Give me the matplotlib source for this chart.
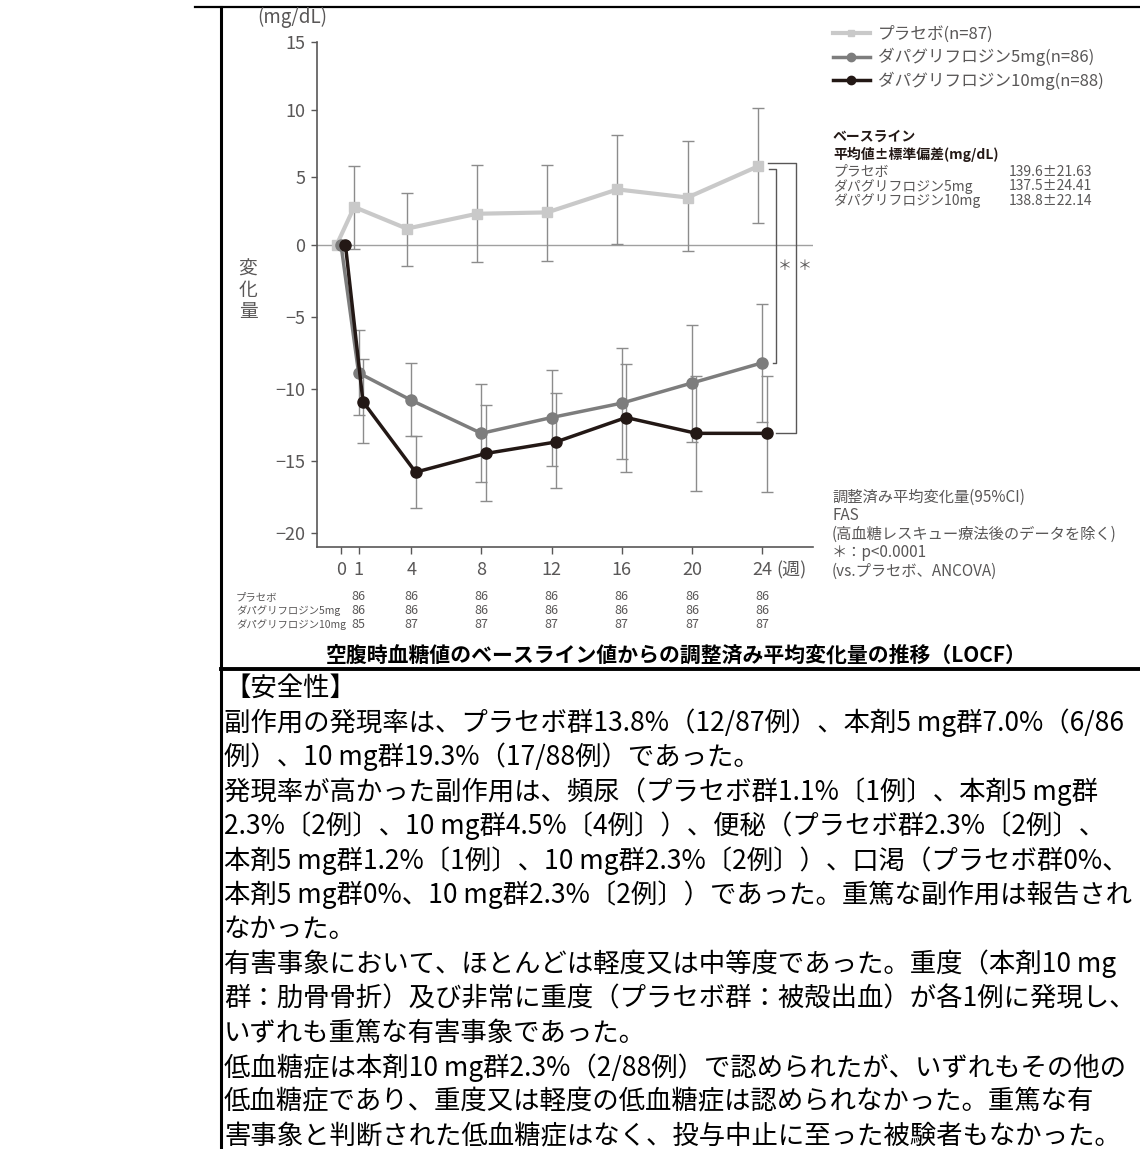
import numpy as np
import matplotlib
matplotlib.use('Agg')
import matplotlib.pyplot as plt

plt.rcParams['font.family'] = ['Noto Sans CJK JP', 'DejaVu Sans']

# weeks and adjusted mean change from baseline (mg/dL), 95% CI bounds
weeks = [0, 1, 4, 8, 12, 16, 20, 24]
week_labels = ['0', '1', '4', '8', '12', '16', '20', '24']

pl_mean = [0, 2.8, 1.2, 2.3, 2.4, 4.1, 3.5, 5.8]
pl_lo = [np.nan, -0.3, -1.5, -1.2, -1.1, 0.1, -0.4, 1.6]
pl_hi = [np.nan, 5.8, 3.8, 5.9, 5.9, 8.1, 7.7, 10.1]

d5_mean = [0, -8.9, -10.8, -13.1, -12.0, -11.0, -9.6, -8.2]
d5_lo = [np.nan, -11.8, -13.3, -16.5, -15.4, -14.9, -13.7, -12.3]
d5_hi = [np.nan, -5.9, -8.2, -9.7, -8.7, -7.2, -5.6, -4.1]

d10_mean = [0, -10.9, -15.8, -14.5, -13.7, -12.0, -13.1, -13.1]
d10_lo = [np.nan, -13.8, -18.3, -17.8, -16.9, -15.8, -17.1, -17.2]
d10_hi = [np.nan, -7.9, -13.3, -11.1, -10.3, -8.3, -9.1, -9.1]

group_names = ['プラセボ', 'ダパグリフロジン5mg', 'ダパグリフロジン10mg']
group_n = [87, 86, 88]
baseline = ['139.6±21.63', '137.5±24.41', '138.8±22.14']

n_pl = ['86', '86', '86', '86', '86', '86', '86']
n_d5 = ['86', '86', '86', '86', '86', '86', '86']
n_d10 = ['85', '87', '87', '87', '87', '87', '87']

notes = ['調整済み平均変化量(95%CI)', 'FAS', '(高血糖レスキュー療法後のデータを除く)',
         '＊：p<0.0001', '(vs.プラセボ、ANCOVA)']

caption = '空腹時血糖値のベースライン値からの調整済み平均変化量の推移（LOCF）'
body = [
    '【安全性】',
    '副作用の発現率は、プラセボ群13.8%（12/87例）、本剤5 mg群7.0%（6/86',
    '例）、10 mg群19.3%（17/88例）であった。',
    '発現率が高かった副作用は、頻尿（プラセボ群1.1%〔1例〕、本剤5 mg群',
    '2.3%〔2例〕、10 mg群4.5%〔4例〕）、便秘（プラセボ群2.3%〔2例〕、',
    '本剤5 mg群1.2%〔1例〕、10 mg群2.3%〔2例〕）、口渇（プラセボ群0%、',
    '本剤5 mg群0%、10 mg群2.3%〔2例〕）であった。重篤な副作用は報告され',
    'なかった。',
    '有害事象において、ほとんどは軽度又は中等度であった。重度（本剤10 mg',
    '群：肋骨骨折）及び非常に重度（プラセボ群：被殻出血）が各1例に発現し、',
    'いずれも重篤な有害事象であった。',
    '低血糖症は本剤10 mg群2.3%（2/88例）で認められたが、いずれもその他の',
    '低血糖症であり、重度又は軽度の低血糖症は認められなかった。重篤な有',
    '害事象と判断された低血糖症はなく、投与中止に至った被験者もなかった。',
]

W, H = 1140, 1149
def fx(x):
    return x / W
def fy(y):
    return 1 - y / H

GRAY = '#595757'
C_PL = '#c9c9c9'
C_5 = '#7d7d7d'
C_10 = '#231815'
C_ERR = '#8c8c8c'

fig = plt.figure(figsize=(W / 100, H / 100), dpi=100)
ax = fig.add_axes([fx(317), fy(547), fx(813) - fx(317), fy(42) - fy(547)])

# the printed chart is a bit compressed above zero
k = 0.94
def fwd(y):
    y = np.asarray(y, dtype=float)
    return np.where(y > 0, y * k, y)
def inv(y):
    y = np.asarray(y, dtype=float)
    return np.where(y > 0, y / k, y)
ax.set_yscale('function', functions=(fwd, inv))

wk = np.array(weeks, dtype=float)
series = [
    (wk - 0.25, pl_mean, pl_lo, pl_hi, C_PL, 's', 6.5, 3.0),
    (wk, d5_mean, d5_lo, d5_hi, C_5, 'o', 8, 2.5),
    (wk + 0.25, d10_mean, d10_lo, d10_hi, C_10, 'o', 8, 2.5),
]
handles = []
for x, m, lo, hi, c, mk, ms, lw in series:
    m = np.array(m)
    yerr = [m - np.array(lo), np.array(hi) - m]
    ax.errorbar(x, m, yerr=yerr, fmt='none', ecolor=C_ERR, elinewidth=1,
                capsize=4, capthick=1, zorder=1)
    h, = ax.plot(x, m, color=c, marker=mk, markersize=ms, lw=lw, zorder=3)
    handles.append(h)

ax.axhline(0, color='#a0a0a0', lw=1, zorder=0)

ax.set_xlim(-1.37, 26.9)
ax.set_ylim(-21, 15)
ax.set_xticks(weeks)
ax.set_xticklabels(week_labels)
ax.set_yticks([15, 10, 5, 0, -5, -10, -15, -20])
ax.yaxis.set_minor_locator(plt.NullLocator())
for s in ['top', 'right']:
    ax.spines[s].set_visible(False)
ax.spines['left'].set_bounds(-21, 15)
for s in ['left', 'bottom']:
    ax.spines[s].set_color(GRAY)
    ax.spines[s].set_linewidth(1.2)
ax.tick_params(axis='y', length=4.3, width=1, color=GRAY, labelcolor=GRAY,
               labelsize=13, pad=4)
ax.tick_params(axis='x', length=5, width=1, color=GRAY, labelcolor=GRAY,
               labelsize=13, pad=5)

# significance brackets at week 24
yt = pl_mean[-1]
ax.plot([24.35, 25.95, 25.95, 24.8], [yt + 0.25, yt + 0.25, d10_mean[-1], d10_mean[-1]],
        color=GRAY, lw=1, clip_on=False)
ax.plot([24.4, 24.8, 24.8, 24.6], [yt - 0.2, yt - 0.2, d5_mean[-1], d5_mean[-1]],
        color=GRAY, lw=1, clip_on=False)
ax.text(25.3, -1.5, '＊', color=GRAY, fontsize=10, ha='center', va='center')
ax.text(26.45, -1.5, '＊', color=GRAY, fontsize=10, ha='center', va='center')

fig.text(fx(292), fy(17), '(mg/dL)', color=GRAY, fontsize=13.5, ha='center', va='center')
fig.text(fx(248), fy(290), '変\n化\n量', color=GRAY, fontsize=13.5, ha='center',
         va='center', linespacing=1.0)
fig.text(fx(776), fy(570), '(週)', color=GRAY, fontsize=13, ha='left', va='center')

fig.legend(handles, ['%s(n=%d)' % (g, n) for g, n in zip(group_names, group_n)],
           loc='upper left', bbox_to_anchor=(fx(818), fy(11)), frameon=False,
           fontsize=12, labelcolor=GRAY, handlelength=2.2, handletextpad=0.5,
           labelspacing=0.3, markerscale=0.75)

fig.text(fx(833), fy(137), 'ベースライン', color=C_10, fontsize=10, weight='bold', va='center')
fig.text(fx(833), fy(154), '平均値±標準偏差(mg/dL)', color=C_10, fontsize=10,
         weight='bold', va='center')
for i, (g, b) in enumerate(zip(group_names, baseline)):
    y = 172 + i * 14.5
    fig.text(fx(833), fy(y), g, color=GRAY, fontsize=10, va='center')
    fig.text(fx(1092), fy(y), b, color=GRAY, fontsize=10, va='center', ha='right')

for i, t in enumerate(notes):
    fig.text(fx(832), fy(497 + i * 18.5), t, color=GRAY, fontsize=11, va='center')

# numbers at risk under the axis
for i, (g, row) in enumerate(zip(group_names, [n_pl, n_d5, n_d10])):
    y = 597 + i * 14
    fig.text(fx(236), fy(y), g, color=GRAY, fontsize=7.5, va='center')
    for w, v in zip(weeks[1:], row):
        xd = ax.transData.transform((w, 0))[0]
        fig.text(xd / W, fy(y), v, color=GRAY, fontsize=9, va='center', ha='center')

fig.text(fx(676), fy(655), caption, color='black', fontsize=15, weight='bold',
         ha='center', va='center')

for i, t in enumerate(body):
    fig.text(fx(224), fy(688 + i * 34.5), t, color='black', fontsize=19, va='center')

# table rules
fig.add_artist(plt.Line2D([fx(195), fx(1140)], [fy(7), fy(7)], color='black', lw=1.6))
fig.add_artist(plt.Line2D([fx(221), fx(221)], [fy(7), fy(1149)], color='black', lw=2.2))
fig.add_artist(plt.Line2D([fx(221), fx(1140)], [fy(669), fy(669)], color='black', lw=2.8))

fig.savefig('out.png', dpi=100)
